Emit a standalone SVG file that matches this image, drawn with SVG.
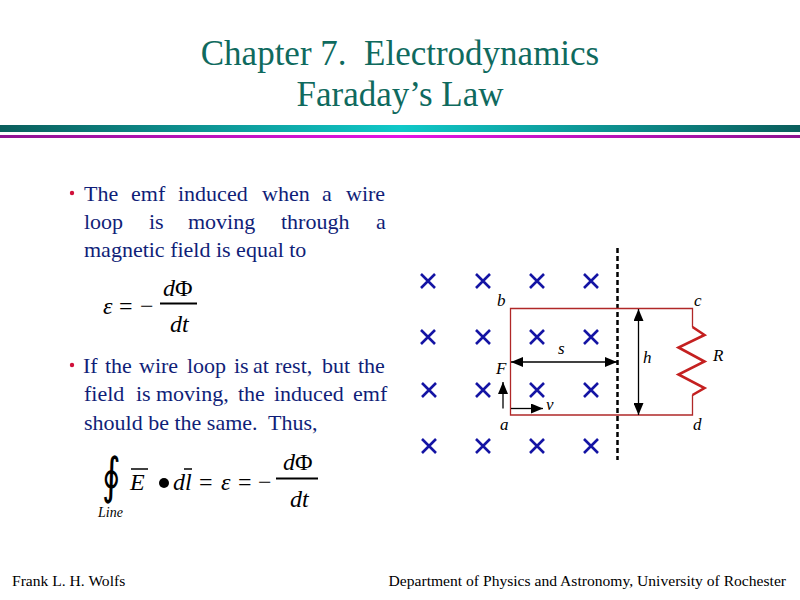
<svg xmlns="http://www.w3.org/2000/svg" width="800" height="600" viewBox="0 0 800 600">
<defs>
<linearGradient id="gTeal" x1="0" y1="0" x2="1" y2="0">
<stop offset="0" stop-color="#0a5e5c"/><stop offset="0.5" stop-color="#10c8c8"/><stop offset="1" stop-color="#0a5e5c"/>
</linearGradient>
<linearGradient id="gMag" x1="0" y1="0" x2="1" y2="0">
<stop offset="0" stop-color="#8e1490"/><stop offset="0.5" stop-color="#e414e4"/><stop offset="1" stop-color="#8e1490"/>
</linearGradient>
<marker id="ah" viewBox="0 0 12 10" refX="12" refY="5" markerWidth="12" markerHeight="10" markerUnits="userSpaceOnUse" orient="auto-start-reverse">
<path d="M0,0 L12,5 L0,10 Z" fill="#000"/>
</marker>
<g id="xm"><path d="M-7,-7 L7,7 M7,-7 L-7,7" stroke="#1414a4" stroke-width="2.6" fill="none"/></g>
</defs>
<style>
.title{font-family:"Liberation Serif",serif;font-size:35px;fill:#0f6a5e;text-anchor:middle}
.body{font-family:"Liberation Serif",serif;font-size:22px;fill:#101e78}
.math{font-family:"Liberation Serif",serif;font-size:24px;fill:#000}
.it{font-style:italic}
.lbl{font-family:"Liberation Serif",serif;font-size:17px;font-style:italic;fill:#000}
.foot{font-family:"Liberation Serif",serif;font-size:15.6px;fill:#000}
.bul{fill:#d0103a}
.wire{stroke:#b02828;stroke-width:1.3;fill:none}
.arr{stroke:#000;stroke-width:1.3;fill:none}
</style>
<rect width="800" height="600" fill="#fff"/>

<g id="title">
<text class="title" x="400" y="65" xml:space="preserve">Chapter 7.  Electrodynamics</text>
<text class="title" x="400" y="106">Faraday’s Law</text>
</g>
<g id="bars">
<rect x="0" y="125" width="800" height="7" fill="url(#gTeal)"/>
<rect x="0" y="135" width="800" height="3" fill="url(#gMag)"/>
</g>

<g id="bullet1">
<circle class="bul" cx="72" cy="193" r="2.2"/>
<text class="body" y="201"><tspan x="84">The</tspan><tspan x="131">emf</tspan><tspan x="178">induced</tspan><tspan x="262">when</tspan><tspan x="322">a</tspan><tspan x="346">wire</tspan></text>
<text class="body" y="229"><tspan x="84">loop</tspan><tspan x="149">is</tspan><tspan x="188">moving</tspan><tspan x="281">through</tspan><tspan x="376">a</tspan></text>
<text class="body" x="84" y="257">magnetic field is equal to</text>
</g>

<g id="eq1">
<text class="math it" x="103" y="314">ε</text>
<text class="math" x="119" y="314">=</text>
<text class="math" x="140" y="314">−</text>
<text class="math" x="163" y="296"><tspan class="it">d</tspan>Φ</text>
<line x1="160" y1="303.5" x2="197" y2="303.5" stroke="#000" stroke-width="1.8"/>
<text class="math it" x="170" y="332">dt</text>
</g>

<g id="bullet2">
<circle class="bul" cx="72" cy="365" r="2.2"/>
<text class="body" y="373"><tspan x="83">If</tspan><tspan x="105">the</tspan><tspan x="139">wire</tspan><tspan x="187">loop</tspan><tspan x="234">is</tspan><tspan x="253">at</tspan><tspan x="275">rest,</tspan><tspan x="322">but</tspan><tspan x="358">the</tspan></text>
<text class="body" y="401"><tspan x="84">field</tspan><tspan x="136">is</tspan><tspan x="156">moving,</tspan><tspan x="238">the</tspan><tspan x="274">induced</tspan><tspan x="353">emf</tspan></text>
<text class="body" x="84" y="430" xml:space="preserve">should be the same.  Thus,</text>
</g>

<g id="eq2">
<text transform="translate(102,493) scale(1,1.4)" x="0" y="0" style="font-family:'DejaVu Serif',serif;font-size:36px;fill:#000">∮</text>
<text x="98" y="517" style="font-family:'Liberation Serif',serif;font-size:14px;font-style:italic;fill:#000">Line</text>
<text class="math it" x="130" y="490">E</text>
<line x1="131" y1="469" x2="148" y2="469" stroke="#000" stroke-width="1.5"/>
<circle cx="164" cy="483" r="5" fill="#000"/>
<text class="math it" x="173" y="490">dl</text>
<line x1="184" y1="469" x2="192" y2="469" stroke="#000" stroke-width="1.5"/>
<text class="math" x="199" y="490">=</text>
<text class="math it" x="221" y="490">ε</text>
<text class="math" x="238" y="490">=</text>
<text class="math" x="258" y="490">−</text>
<text class="math" x="283" y="470"><tspan class="it">d</tspan>Φ</text>
<line x1="276" y1="478.5" x2="318" y2="478.5" stroke="#000" stroke-width="1.8"/>
<text class="math it" x="290" y="507">dt</text>
</g>

<g id="field">
<use href="#xm" x="428" y="281"/><use href="#xm" x="483" y="281"/><use href="#xm" x="537" y="281"/><use href="#xm" x="591" y="281"/>
<use href="#xm" x="428" y="337"/><use href="#xm" x="483" y="337"/><use href="#xm" x="537" y="337"/><use href="#xm" x="591" y="337"/>
<use href="#xm" x="429" y="390"/><use href="#xm" x="483" y="390"/><use href="#xm" x="537" y="390"/><use href="#xm" x="591" y="390"/>
<use href="#xm" x="429" y="446"/><use href="#xm" x="483" y="446"/><use href="#xm" x="537" y="446"/><use href="#xm" x="591" y="446"/>
</g>

<g id="boundary">
<line x1="617.5" y1="248" x2="617.5" y2="460" stroke="#000" stroke-width="2.5" stroke-dasharray="5 3"/>
</g>

<g id="loop">
<path class="wire" d="M692.5,327 L692.5,308.5 L510.5,308.5 L510.5,415 L692.5,415 L692.5,395"/>
<polyline points="692.5,327 704.5,335 678.5,347.5 704.5,361.5 678.5,374.5 704.5,388 692.5,395" fill="none" stroke="#c42020" stroke-width="2.6" stroke-linejoin="miter"/>
</g>

<g id="connectors">
<line class="arr" x1="511" y1="362" x2="617" y2="362" marker-start="url(#ah)" marker-end="url(#ah)"/>
<line class="arr" x1="638.5" y1="309" x2="638.5" y2="415" marker-start="url(#ah)" marker-end="url(#ah)"/>
<line class="arr" x1="503" y1="408.5" x2="503" y2="382" marker-end="url(#ah)"/>
<line class="arr" x1="511" y1="408.5" x2="543" y2="408.5" marker-end="url(#ah)"/>
</g>

<g id="labels">
<text class="lbl" x="497" y="306">b</text>
<text class="lbl" x="694" y="306">c</text>
<text class="lbl" x="500" y="430">a</text>
<text class="lbl" x="693" y="430">d</text>
<text class="lbl" x="558" y="354">s</text>
<text class="lbl" x="643" y="363">h</text>
<text class="lbl" x="713" y="361">R</text>
<text class="lbl" x="496" y="374">F</text>
<text class="lbl" x="546" y="410">v</text>
</g>

<g id="footer">
<text class="foot" x="12" y="586">Frank L. H. Wolfs</text>
<text class="foot" x="786" y="586" text-anchor="end">Department of Physics and Astronomy, University of Rochester</text>
</g>
</svg>
